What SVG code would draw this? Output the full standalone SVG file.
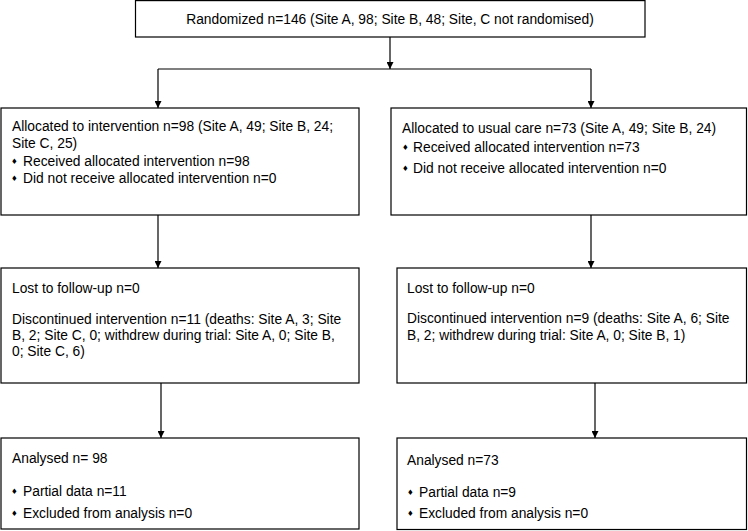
<svg xmlns="http://www.w3.org/2000/svg" width="748" height="531" viewBox="0 0 748 531">
<defs>
<style>
.box{fill:#fff;stroke:#000;stroke-width:1.2}
.t{font-family:"Liberation Sans",Arial,sans-serif;font-size:13.8px;fill:#000}
.b{font-family:"DejaVu Sans",sans-serif;font-size:7.5px;fill:#000}
.c{fill:none;stroke:#000;stroke-width:1.2}
</style>
<marker id="ah" viewBox="0 0 10 10" refX="10" refY="5" markerWidth="7" markerHeight="7" markerUnits="userSpaceOnUse" orient="auto">
<path d="M0,0 L10,5 L0,10 z" fill="#000"/>
</marker>
</defs>
<rect width="748" height="531" fill="#fff"/>
<g id="connectors">
<line class="c" x1="390" y1="37" x2="390" y2="69" marker-end="url(#ah)"/>
<polyline class="c" points="158,69 591,69"/>
<line class="c" x1="158" y1="69" x2="158" y2="108" marker-end="url(#ah)"/>
<line class="c" x1="591" y1="69" x2="591" y2="108" marker-end="url(#ah)"/>
<line class="c" x1="158" y1="215" x2="158" y2="268" marker-end="url(#ah)"/>
<line class="c" x1="591" y1="215" x2="591" y2="268" marker-end="url(#ah)"/>
<line class="c" x1="161" y1="383" x2="161" y2="438" marker-end="url(#ah)"/>
<line class="c" x1="595" y1="383" x2="595" y2="438" marker-end="url(#ah)"/>
</g>
<g id="randomized">
<rect class="box" x="135.5" y="0.6" width="509.5" height="36.4"/>
<text class="t" x="390" y="24" text-anchor="middle">Randomized n=146 (Site A, 98; Site B, 48; Site, C not randomised)</text>
</g>
<g id="alloc-int">
<rect class="box" x="1" y="108" width="358" height="107"/>
<text class="t" x="12" y="131">Allocated to intervention n=98 (Site A, 49; Site B, 24;</text>
<text class="t" x="12" y="148">Site C, 25)</text>
<text class="b" x="11" y="164">♦</text><text class="t" x="23" y="166">Received allocated intervention n=98</text>
<text class="b" x="11" y="181">♦</text><text class="t" x="23" y="183">Did not receive allocated intervention n=0</text>
</g>
<g id="alloc-care">
<rect class="box" x="391" y="108" width="355.5" height="107"/>
<text class="t" x="402" y="133">Allocated to usual care n=73 (Site A, 49; Site B, 24)</text>
<text class="b" x="402" y="150">♦</text><text class="t" x="413" y="152">Received allocated intervention n=73</text>
<text class="b" x="402" y="171">♦</text><text class="t" x="413" y="173">Did not receive allocated intervention n=0</text>
</g>
<g id="follow-int">
<rect class="box" x="1" y="268" width="358" height="115"/>
<text class="t" x="12" y="293">Lost to follow-up n=0</text>
<text class="t" x="12" y="324">Discontinued intervention n=11 (deaths: Site A, 3; Site</text>
<text class="t" x="12" y="340">B, 2; Site C, 0; withdrew during trial: Site A, 0; Site B,</text>
<text class="t" x="12" y="356">0; Site C, 6)</text>
</g>
<g id="follow-care">
<rect class="box" x="397" y="268" width="349.5" height="115"/>
<text class="t" x="407" y="293">Lost to follow-up n=0</text>
<text class="t" x="407" y="323">Discontinued intervention n=9 (deaths: Site A, 6; Site</text>
<text class="t" x="407" y="340">B, 2; withdrew during trial: Site A, 0; Site B, 1)</text>
</g>
<g id="analysed-int">
<rect class="box" x="1" y="438" width="358" height="91"/>
<text class="t" x="12" y="463">Analysed n= 98</text>
<text class="b" x="11" y="494">♦</text><text class="t" x="23" y="496">Partial data n=11</text>
<text class="b" x="11" y="516">♦</text><text class="t" x="23" y="518">Excluded from analysis n=0</text>
</g>
<g id="analysed-care">
<rect class="box" x="397" y="438" width="349.5" height="91.5"/>
<text class="t" x="407" y="465">Analysed n=73</text>
<text class="b" x="407" y="495">♦</text><text class="t" x="419" y="497">Partial data n=9</text>
<text class="b" x="407" y="516">♦</text><text class="t" x="419" y="518">Excluded from analysis n=0</text>
</g>
</svg>
